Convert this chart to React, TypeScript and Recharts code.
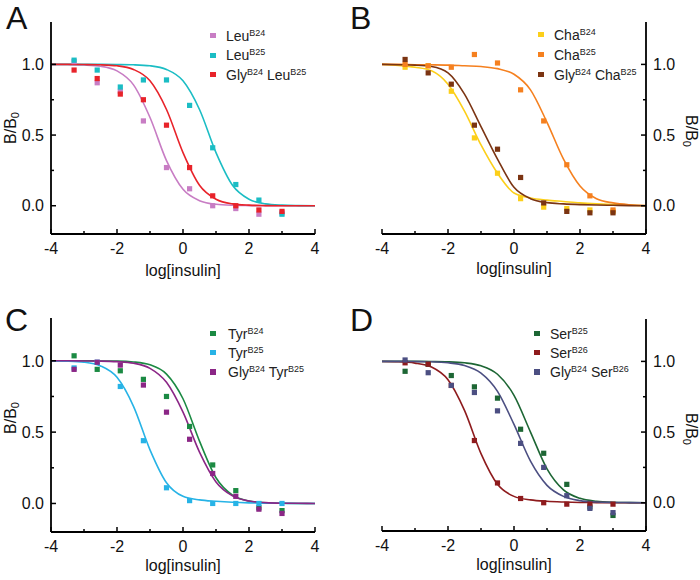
import React from 'react';
import { ComposedChart, Line, Scatter, XAxis, YAxis, Label } from 'recharts';

// doses (log) of the measured points
const DOSE = [-3.3, -2.6, -1.9, -1.2, -0.5, 0.2, 0.9, 1.6, 2.3, 3.0];
const CURVE_X = [-4, -3.5, -3, -2.5, -2, -1.5, -1, -0.5, 0, 0.5, 1, 1.5, 2, 2.5, 3, 3.5, 4];
const X_TICKS = [-4, -3, -2, -1, 0, 1, 2, 3, 4];
const Y_TICKS = [0, 0.25, 0.5, 0.75, 1];

// A
const LEU_B24 = [1.02, 0.87, 0.81, 0.6, 0.27, 0.12, 0.0, -0.02, -0.06, -0.05];
const LEU_B25 = [1.03, 0.96, 0.84, 0.89, 0.89, 0.71, 0.41, 0.15, 0.04, -0.06];
const GLY_LEU = [0.96, 0.9, 0.79, 0.75, 0.57, 0.27, 0.07, 0.0, -0.03, -0.04];
const LEU_B24_FIT = [1, 0.999, 0.996, 0.987, 0.954, 0.855, 0.624, 0.319, 0.116, 0.036, 0.01, 0.003, 0.001, 0, 0, 0, 0];
const LEU_B25_FIT = [1, 1, 1, 1, 0.999, 0.997, 0.99, 0.964, 0.884, 0.681, 0.376, 0.145, 0.046, 0.013, 0.004, 0.001, 0];
const GLY_LEU_FIT = [1, 1, 0.999, 0.997, 0.99, 0.964, 0.884, 0.681, 0.376, 0.145, 0.046, 0.013, 0.004, 0.001, 0, 0, 0];

// B
const CHA_B24 = [0.98, 0.99, 0.81, 0.48, 0.23, 0.05, -0.01, -0.02, -0.03, -0.04];
const CHA_B25 = [1.0, 0.99, 0.98, 1.07, 1.01, 0.82, 0.6, 0.29, 0.07, -0.03];
const GLY_CHA = [1.035, 0.94, 0.86, 0.57, 0.4, 0.2, 0.02, -0.04, -0.05, -0.05];
const CHA_B24_FIT = [1, 0.993, 0.98, 0.955, 0.86, 0.67, 0.43, 0.23, 0.09, 0.055, 0.04, 0.03, 0.02, 0.013, 0.008, 0.004, 0];
const CHA_B25_FIT = [1, 1, 0.998, 0.997, 0.995, 0.99, 0.985, 0.97, 0.93, 0.82, 0.59, 0.33, 0.14, 0.05, 0.02, 0.007, 0.002];
const GLY_CHA_FIT = [1, 0.998, 0.995, 0.985, 0.94, 0.79, 0.56, 0.33, 0.13, 0.05, 0.022, 0.013, 0.008, 0.005, 0.003, 0.001, 0];

// C
const TYR_B24 = [1.035, 0.94, 0.93, 0.87, 0.75, 0.54, 0.27, 0.09, -0.03, -0.05];
const TYR_B25 = [0.95, 0.99, 0.82, 0.44, 0.11, 0.02, 0.0, 0.0, 0.0, 0.0];
const GLY_TYR = [0.94, 0.99, 0.97, 0.83, 0.64, 0.45, 0.21, 0.05, -0.04, -0.07];
const TYR_B24_FIT = [1, 1, 1, 0.999, 0.998, 0.992, 0.972, 0.907, 0.734, 0.437, 0.18, 0.058, 0.017, 0.005, 0.001, 0, 0];
const TYR_B25_FIT = [0.999, 0.997, 0.99, 0.964, 0.884, 0.681, 0.376, 0.145, 0.05, 0.025, 0.015, 0.008, 0.004, 0.002, 0.001, 0, 0];
const GLY_TYR_FIT = [1, 1, 0.999, 0.998, 0.994, 0.983, 0.947, 0.849, 0.64, 0.36, 0.151, 0.053, 0.017, 0.006, 0.002, 0.001, 0];

// D
const SER_B25 = [0.93, 0.98, 0.9, 0.82, 0.74, 0.52, 0.35, 0.13, -0.03, -0.09];
const SER_B26 = [0.99, 0.98, 0.83, 0.44, 0.14, 0.03, 0.0, -0.01, -0.01, -0.01];
const GLY_SER = [1.01, 0.92, 0.83, 0.78, 0.65, 0.42, 0.25, 0.05, -0.04, -0.07];
const SER_B25_FIT = [1, 1, 1, 0.999, 0.997, 0.99, 0.969, 0.909, 0.76, 0.5, 0.24, 0.091, 0.031, 0.01, 0.003, 0.001, 0];
const SER_B26_FIT = [0.999, 0.997, 0.988, 0.96, 0.87, 0.653, 0.347, 0.13, 0.045, 0.02, 0.01, 0.005, 0.002, 0.001, 0, 0, 0];
const GLY_SER_FIT = [1, 1, 0.999, 0.997, 0.99, 0.971, 0.917, 0.788, 0.554, 0.294, 0.123, 0.045, 0.015, 0.005, 0.002, 0.001, 0];

const FONT = '"Liberation Sans", Arial, sans-serif';
const W = 350;
const H = 290;

const pts = (ys: number[]) => DOSE.map((x, i) => ({ x, y: ys[i] }));
const fit = (ys: number[]) => CURVE_X.map((x, i) => ({ x, y: ys[i] }));

type Series = { name: [string, string][]; color: string; points: number[]; curve: number[] };

const PANELS = [
  {
    letter: 'A', left: 0, top: 0, letterX: 6, letterY: 2,
    plot: { l: 51, r: 315, t: 22, b: 234 }, yRight: false, yTitle: { x: 16, y: 128 }, xTitleDy: 42,
    legend: { mx: 213, tx: 226, top: 26, lh: 19.5 },
    series: [
      { name: [['Leu', 'B24']], color: '#c87dc4', points: LEU_B24, curve: LEU_B24_FIT },
      { name: [['Leu', 'B25']], color: '#1bbdc4', points: LEU_B25, curve: LEU_B25_FIT },
      { name: [['Gly', 'B24'], ['Leu', 'B25']], color: '#e8232a', points: GLY_LEU, curve: GLY_LEU_FIT },
    ] as Series[],
  },
  {
    letter: 'B', left: 350, top: 0, letterX: 0, letterY: 2,
    plot: { l: 32, r: 296, t: 22, b: 234 }, yRight: true, yTitle: { x: 336, y: 131 }, xTitleDy: 40,
    legend: { mx: 191, tx: 204, top: 25, lh: 19.8 },
    series: [
      { name: [['Cha', 'B24']], color: '#fccf1a', points: CHA_B24, curve: CHA_B24_FIT },
      { name: [['Cha', 'B25']], color: '#f5801f', points: CHA_B25, curve: CHA_B25_FIT },
      { name: [['Gly', 'B24'], ['Cha', 'B25']], color: '#7b3412', points: GLY_CHA, curve: GLY_CHA_FIT },
    ] as Series[],
  },
  {
    letter: 'C', left: 0, top: 290, letterX: 5, letterY: 14,
    plot: { l: 51, r: 315, t: 28, b: 242 }, yRight: false, yTitle: { x: 16, y: 128 }, xTitleDy: 39,
    legend: { mx: 213, tx: 228, top: 34, lh: 19.2 },
    series: [
      { name: [['Tyr', 'B24']], color: '#1b8a43', points: TYR_B24, curve: TYR_B24_FIT },
      { name: [['Tyr', 'B25']], color: '#27b3e6', points: TYR_B25, curve: TYR_B25_FIT },
      { name: [['Gly', 'B24'], ['Tyr', 'B25']], color: '#8b2686', points: GLY_TYR, curve: GLY_TYR_FIT },
    ] as Series[],
  },
  {
    letter: 'D', left: 350, top: 290, letterX: 0, letterY: 14,
    plot: { l: 32, r: 296, t: 29, b: 241 }, yRight: true, yTitle: { x: 336, y: 139 }, xTitleDy: 39,
    legend: { mx: 187, tx: 200, top: 34, lh: 19.2 },
    series: [
      { name: [['Ser', 'B25']], color: '#1d6634', points: SER_B25, curve: SER_B25_FIT },
      { name: [['Ser', 'B26']], color: '#8e1b1d', points: SER_B26, curve: SER_B26_FIT },
      { name: [['Gly', 'B24'], ['Ser', 'B26']], color: '#4c4f82', points: GLY_SER, curve: GLY_SER_FIT },
    ] as Series[],
  },
];

const AXIS = { stroke: '#000', strokeWidth: 1.8 };
const isMajorX = (v: number) => v % 2 === 0;
const isMajorY = (v: number) => Math.abs(v * 2 - Math.round(v * 2)) < 1e-6;

// inward ticks; y/x given by recharts is the axis line itself (tickSize=0, tickMargin=0)
const XTick = (side: 'top' | 'bottom') => (p: any) => {
  const v = p.payload.value;
  const len = isMajorX(v) ? 5 : 3;
  const dir = side === 'bottom' ? -1 : 1;
  return (
    <g>
      <line x1={p.x} x2={p.x} y1={p.y} y2={p.y + dir * len} stroke="#000" strokeWidth={1.5} />
      {side === 'bottom' && isMajorX(v) && (
        <text x={p.x} y={p.y + 20} textAnchor="middle" fontSize={16} fontFamily={FONT} fill="#111">{v}</text>
      )}
    </g>
  );
};

const YTick = (side: 'left' | 'right', labeled: boolean) => (p: any) => {
  const v = p.payload.value;
  const len = isMajorY(v) ? 5 : 3;
  const dir = side === 'left' ? 1 : -1;
  return (
    <g>
      <line x1={p.x} x2={p.x + dir * len} y1={p.y} y2={p.y} stroke="#000" strokeWidth={1.5} />
      {labeled && isMajorY(v) && (
        <text x={p.x - dir * 7} y={p.y + 5.7} textAnchor={side === 'left' ? 'end' : 'start'} fontSize={16} fontFamily={FONT} fill="#111">
          {v.toFixed(1)}
        </text>
      )}
    </g>
  );
};

const Panel = ({ cfg }: { cfg: (typeof PANELS)[number] }) => {
  const { plot, yRight } = cfg;
  const margin = {
    top: plot.t,
    bottom: H - plot.b - 30,
    left: yRight ? plot.l : plot.l - 40,
    right: yRight ? W - plot.r - 40 : W - plot.r,
  };
  const mainSide = yRight ? 'right' : 'left';
  const mirrorSide = yRight ? 'left' : 'right';

  return (
    <div style={{ position: 'absolute', left: cfg.left, top: cfg.top, width: W, height: H }}>
      <ComposedChart width={W} height={H} margin={margin}>
        <XAxis xAxisId="bottom" dataKey="x" type="number" domain={[-4, 4]} ticks={X_TICKS} allowDataOverflow
          height={30} axisLine={AXIS} tickLine={false} tickSize={0} tickMargin={0} tick={XTick('bottom')}>
          <Label content={() => (
            <text x={(plot.l + plot.r) / 2} y={plot.b + cfg.xTitleDy} textAnchor="middle" fontSize={16} fontFamily={FONT} fill="#111">
              log[insulin]
            </text>
          )} />
        </XAxis>
        <XAxis xAxisId="top" orientation="top" type="number" domain={[-4, 4]} ticks={X_TICKS} allowDataOverflow
          height={0} axisLine={AXIS} tickLine={false} tickSize={0} tickMargin={0} tick={XTick('top')} />
        <YAxis yAxisId="main" orientation={mainSide} type="number" domain={[-0.2, 1.3]} ticks={Y_TICKS} allowDataOverflow
          width={40} axisLine={AXIS} tickLine={false} tickSize={0} tickMargin={0} tick={YTick(mainSide, true)}>
          <Label content={() => (
            <text x={cfg.yTitle.x} y={cfg.yTitle.y} textAnchor="middle" fontSize={16} fontFamily={FONT} fill="#111"
              transform={`rotate(${yRight ? 90 : -90} ${cfg.yTitle.x} ${cfg.yTitle.y})`}>
              B/B<tspan dy={3} fontSize={11}>0</tspan>
            </text>
          )} />
        </YAxis>
        <YAxis yAxisId="mirror" orientation={mirrorSide} type="number" domain={[-0.2, 1.3]} ticks={Y_TICKS} allowDataOverflow
          width={0} axisLine={AXIS} tickLine={false} tickSize={0} tickMargin={0} tick={YTick(mirrorSide, false)} />
        {cfg.series.map((s, i) => (
          <Scatter key={`p${i}`} xAxisId="bottom" yAxisId="main" data={pts(s.points)} dataKey="y" isAnimationActive={false}
            shape={(p: any) => <rect x={p.cx - 2.6} y={p.cy - 2.6} width={5.2} height={5.2} fill={s.color} />} />
        ))}
        {cfg.series.map((s, i) => (
          <Line key={`c${i}`} xAxisId="bottom" yAxisId="main" data={fit(s.curve)} dataKey="y" type="monotone"
            stroke={s.color} strokeWidth={1.6} dot={false} activeDot={false} isAnimationActive={false} />
        ))}
      </ComposedChart>

      <div style={{ position: 'absolute', left: cfg.letterX, top: cfg.letterY, fontFamily: FONT, fontSize: 32, lineHeight: 1, color: '#111' }}>
        {cfg.letter}
      </div>

      {cfg.series.map((s, i) => {
        const cy = cfg.legend.top + cfg.legend.lh * (i + 0.5);
        return (
          <React.Fragment key={`l${i}`}>
            <div style={{ position: 'absolute', left: cfg.legend.mx - 2.6, top: cy - 2.6, width: 5.2, height: 5.2, background: s.color }} />
            <div style={{ position: 'absolute', left: cfg.legend.tx, top: cy - 9, height: 18, lineHeight: '18px', fontFamily: FONT, fontSize: 14, color: '#222', whiteSpace: 'nowrap' }}>
              {s.name.map(([base, sup], j) => (
                <span key={j}>
                  {j > 0 ? ' ' : ''}{base}
                  <span style={{ fontSize: 9, position: 'relative', top: -5 }}>{sup}</span>
                </span>
              ))}
            </div>
          </React.Fragment>
        );
      })}
    </div>
  );
}

export default function App() {
  return (
    <div style={{ position: 'absolute', left: 0, top: 0, width: 700, height: 580, background: '#fff', overflow: 'hidden' }}>
      {PANELS.map((cfg) => (
        <Panel key={cfg.letter} cfg={cfg} />
      ))}
    </div>
  );
}
